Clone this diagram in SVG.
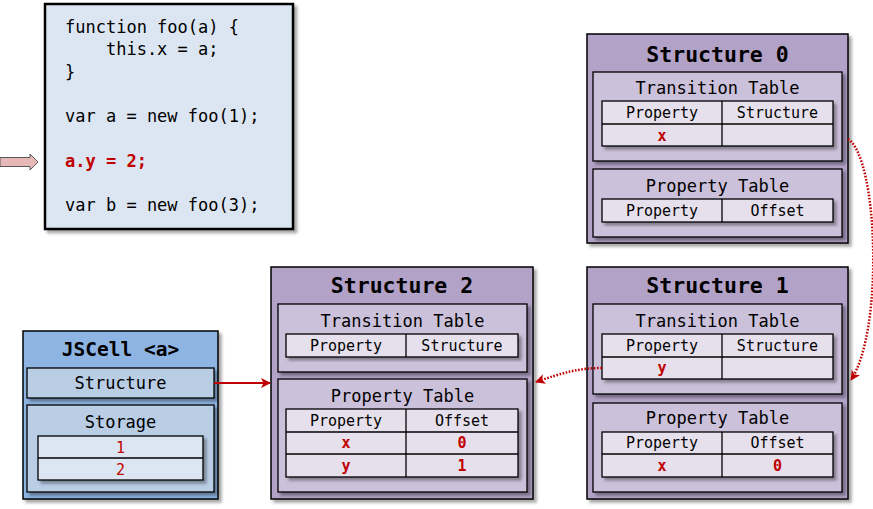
<svg xmlns="http://www.w3.org/2000/svg" width="873" height="509" viewBox="0 0 873 509">
<defs>
<filter id="sh" x="-10%" y="-10%" width="130%" height="130%">
<feDropShadow dx="3" dy="3" stdDeviation="1.8" flood-color="#000" flood-opacity="0.35"/>
</filter>
<marker id="ah" viewBox="0 0 10 10" refX="9" refY="5" markerWidth="10" markerHeight="10" markerUnits="userSpaceOnUse" orient="auto">
<path d="M0,0 L10,5 L0,10 L2.5,5 Z" fill="#c00000"/>
</marker>
</defs>
<style>
text{font-family:"DejaVu Sans Mono","Liberation Mono",monospace;text-anchor:middle;fill:#000}
.code text{text-anchor:start;font-size:17px}
.title{font-size:21.5px;font-weight:bold}
.sub{font-size:17px}
.cell{font-size:15px}
.val{font-size:15px;font-weight:bold;fill:#c00000}
.outer{fill:#b3a2c7;stroke:#000;stroke-width:1.5;filter:url(#sh)}
.inner{fill:#ccc1da;stroke:#000;stroke-width:1.3;filter:url(#sh)}
.tbl{fill:#e6e0ec;stroke:#000;stroke-width:1.3;filter:url(#sh)}
.ln{stroke:#000;stroke-width:1.3}
.conn{fill:none;stroke:#c00000;stroke-width:2}
.dot{fill:none;stroke:#c00000;stroke-width:2.5;stroke-dasharray:1.6 1.6}
</style>

<g id="pointer">
<polygon points="0,157.5 30,157.5 30,154 38,162 30,170 30,166.5 0,166.5" fill="#e6b9b8" stroke="#595959" stroke-width="1"/>
</g>

<g id="code" class="code">
<rect x="45" y="4" width="248" height="225" fill="#dce6f2" stroke="#000" stroke-width="2.5" filter="url(#sh)"/>
<text x="65" y="33">function foo(a) {</text>
<text x="65" y="55.3" xml:space="preserve">    this.x = a;</text>
<text x="65" y="77.6">}</text>
<text x="65" y="122.2">var a = new foo(1);</text>
<text x="65" y="166.8" style="fill:#c00000;font-weight:bold">a.y = 2;</text>
<text x="65" y="211.4">var b = new foo(3);</text>
</g>

<g id="structure0">
<rect class="outer" x="587" y="34" width="261" height="209"/>
<text class="title" x="717.5" y="62">Structure 0</text>
<rect class="inner" x="593" y="72" width="249" height="89"/>
<text class="sub" x="717.5" y="94">Transition Table</text>
<rect class="tbl" x="602" y="101" width="231" height="45"/>
<line class="ln" x1="602" y1="124" x2="833" y2="124"/>
<line class="ln" x1="722" y1="101" x2="722" y2="146"/>
<text class="cell" x="662" y="118">Property</text>
<text class="cell" x="777.5" y="118">Structure</text>
<text class="val" x="662" y="141">x</text>
<rect class="inner" x="593" y="169" width="249" height="68"/>
<text class="sub" x="717.5" y="192">Property Table</text>
<rect class="tbl" x="602" y="199" width="231" height="23"/>
<line class="ln" x1="722" y1="199" x2="722" y2="222"/>
<text class="cell" x="662" y="216">Property</text>
<text class="cell" x="777.5" y="216">Offset</text>
</g>

<g id="structure1">
<rect class="outer" x="587" y="267" width="261" height="232"/>
<text class="title" x="717.5" y="293">Structure 1</text>
<rect class="inner" x="593" y="304" width="249" height="90"/>
<text class="sub" x="717.5" y="327">Transition Table</text>
<rect class="tbl" x="602" y="334" width="231" height="45"/>
<line class="ln" x1="602" y1="357" x2="833" y2="357"/>
<line class="ln" x1="722" y1="334" x2="722" y2="379"/>
<text class="cell" x="662" y="351">Property</text>
<text class="cell" x="777.5" y="351">Structure</text>
<text class="val" x="662" y="373">y</text>
<rect class="inner" x="593" y="403" width="249" height="89"/>
<text class="sub" x="717.5" y="424">Property Table</text>
<rect class="tbl" x="602" y="432" width="231" height="45"/>
<line class="ln" x1="602" y1="454" x2="833" y2="454"/>
<line class="ln" x1="722" y1="432" x2="722" y2="477"/>
<text class="cell" x="662" y="448">Property</text>
<text class="cell" x="777.5" y="448">Offset</text>
<text class="val" x="662" y="471">x</text>
<text class="val" x="777.5" y="471">0</text>
</g>

<g id="structure2">
<rect class="outer" x="271" y="267" width="262" height="232"/>
<text class="title" x="402" y="293">Structure 2</text>
<rect class="inner" x="278" y="304" width="249" height="68"/>
<text class="sub" x="402.5" y="327">Transition Table</text>
<rect class="tbl" x="286" y="334" width="232" height="23"/>
<line class="ln" x1="406" y1="334" x2="406" y2="357"/>
<text class="cell" x="346" y="351">Property</text>
<text class="cell" x="462" y="351">Structure</text>
<rect class="inner" x="278" y="379" width="249" height="113"/>
<text class="sub" x="402.5" y="402">Property Table</text>
<rect class="tbl" x="286" y="409" width="232" height="68"/>
<line class="ln" x1="286" y1="432" x2="518" y2="432"/>
<line class="ln" x1="286" y1="454" x2="518" y2="454"/>
<line class="ln" x1="406" y1="409" x2="406" y2="477"/>
<text class="cell" x="346" y="426">Property</text>
<text class="cell" x="462" y="426">Offset</text>
<text class="val" x="346" y="448">x</text>
<text class="val" x="462" y="448">0</text>
<text class="val" x="346" y="471">y</text>
<text class="val" x="462" y="471">1</text>
</g>

<g id="jscell">
<rect x="23" y="331" width="195" height="168" fill="#8eb4e3" stroke="#000" stroke-width="1.5" filter="url(#sh)"/>
<text class="title" x="120.5" y="356" style="font-size:19.5px">JSCell &lt;a&gt;</text>
<rect x="27" y="368" width="187" height="30" fill="#b9cde5" stroke="#000" stroke-width="1.3" filter="url(#sh)"/>
<text class="sub" x="120.5" y="389">Structure</text>
<rect x="27" y="405" width="187" height="87" fill="#b9cde5" stroke="#000" stroke-width="1.3" filter="url(#sh)"/>
<text class="sub" x="120.5" y="428">Storage</text>
<rect x="38" y="436" width="165" height="44" fill="#dce6f2" stroke="#000" stroke-width="1.3" filter="url(#sh)"/>
<line class="ln" x1="38" y1="458" x2="203" y2="458"/>
<text class="cell" x="120.5" y="453" style="fill:#c00000">1</text>
<text class="cell" x="120.5" y="475" style="fill:#c00000">2</text>
</g>

<g id="connectors">
<line class="conn" x1="214" y1="383" x2="270" y2="383" marker-end="url(#ah)"/>
<path class="dot" d="M602,368 C578,368 562,373 536,382" marker-end="url(#ah)"/>
<path class="dot" d="M848,139 C878,158 884,330 851,380" marker-end="url(#ah)"/>
</g>
</svg>
